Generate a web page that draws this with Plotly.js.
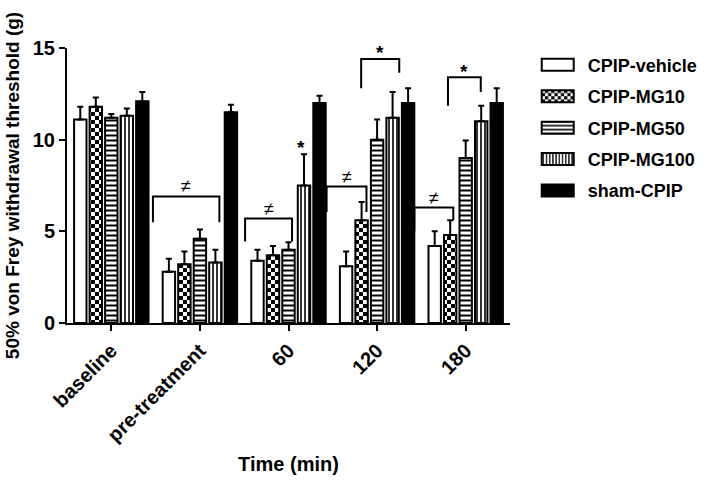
<!DOCTYPE html>
<html>
<head>
<meta charset="utf-8">
<script src="https://cdn.plot.ly/plotly-3.0.1.min.js"></script>
<style>html,body{margin:0;padding:0;background:#fff;}#chart{width:721px;height:480px;}</style>
</head>
<body>
<div id="chart"></div>
<script>
// ---- data ----
const categories = ['baseline', 'pre-treatment', '60', '120', '180'];
const seriesNames = ['CPIP-vehicle', 'CPIP-MG10', 'CPIP-MG50', 'CPIP-MG100', 'sham-CPIP'];
const vehicle    = [11.1, 2.8, 3.4, 3.1, 4.2];
const vehicleErr = [0.7, 0.7, 0.6, 0.8, 0.8];
const mg10       = [11.8, 3.2, 3.7, 5.6, 4.8];
const mg10Err    = [0.5, 0.7, 0.5, 1.0, 0.8];
const mg50       = [11.2, 4.6, 4.0, 10.0, 9.0];
const mg50Err    = [0.2, 0.5, 0.4, 1.1, 0.95];
const mg100      = [11.3, 3.3, 7.5, 11.2, 11.0];
const mg100Err   = [0.4, 0.7, 1.7, 1.4, 0.85];
const sham       = [12.1, 11.5, 12.0, 12.0, 12.0];
const shamErr    = [0.5, 0.4, 0.4, 0.8, 0.8];

// significance brackets: [x0, x1, yTop, yLeftEnd, yRightEnd, label, labelY] (data units)
const brackets = [
  [0.47, 1.22, 6.9, 5.5, 5.5, '≠', 7.5],
  [1.51, 2.04, 5.7, 4.45, 4.45, '≠', 6.2],
  [2.43, 2.88, 7.45, 6.05, 6.05, '≠', 7.95],
  [2.82, 3.25, 14.4, 12.8, 13.65, '*', 14.75],
  [3.42, 3.86, 6.3, 5.0, 5.6, '≠', 6.8],
  [3.80, 4.17, 13.4, 11.85, 12.6, '*', 13.7]
];
// single star above the 60-min MG100 bar: [x, y]
const stars = [[2.14, 9.55]];

const FONT = 'Arial, "Liberation Sans", Helvetica, sans-serif';
const values = [vehicle, mg10, mg50, mg100, sham];
const errs = [vehicleErr, mg10Err, mg50Err, mg100Err, shamErr];
const styles = [
  {color: '#ffffff'},
  {color: '#ffffff', pattern: {shape: '.', fgcolor: '#000', bgcolor: '#fff', size: 8, solidity: 0.5, fillmode: 'replace'}},
  {color: '#ffffff', pattern: {shape: '-', fgcolor: '#000', bgcolor: '#fff', size: 5, solidity: 0.4, fillmode: 'replace'}},
  {color: '#ffffff', pattern: {shape: '|', fgcolor: '#000', bgcolor: '#fff', size: 4, solidity: 0.4, fillmode: 'replace'}},
  {color: '#000000'}
];

const traces = seriesNames.map((name, i) => ({
  type: 'bar',
  name: name,
  x: categories,
  y: values[i],
  legendgroup: 'g' + i,
  marker: Object.assign({line: {color: '#000', width: 2}}, styles[i]),
  error_y: {type: 'data', symmetric: false, array: errs[i], arrayminus: errs[i].map(() => 0),
            color: '#000', thickness: 2, width: 3},
  hoverinfo: 'skip'
}));

const shapes = brackets.map(b => ({
  type: 'path', xref: 'x', yref: 'y',
  path: `M${b[0]},${b[3]} L${b[0]},${b[2]} L${b[1]},${b[2]} L${b[1]},${b[4]}`,
  line: {color: '#000', width: 2}
}));

const annotations = brackets.map(b => ({
  x: (b[0] + b[1]) / 2, y: b[6], xref: 'x', yref: 'y', text: b[5], showarrow: false,
  font: {family: FONT, size: b[5] === '*' ? 19 : 18, color: '#000', weight: b[5] === '*' ? 'bold' : 'normal'}
})).concat(stars.map(s => ({
  x: s[0], y: s[1], xref: 'x', yref: 'y', text: '*', showarrow: false,
  font: {family: FONT, size: 19, color: '#000', weight: 'bold'}
})));

const layout = {
  width: 721, height: 480,
  margin: {l: 67, r: 211, t: 48, b: 157},
  paper_bgcolor: '#fff', plot_bgcolor: '#fff',
  font: {family: FONT, color: '#000', size: 18, weight: 'bold'},
  barmode: 'group', bargap: 0.125, bargroupgap: 0.2,
  showlegend: true,
  legend: {x: 1.04, y: 1.005, xanchor: 'left', yanchor: 'top', traceorder: 'grouped',
           tracegroupgap: 5, itemwidth: 50,
           font: {family: FONT, size: 18, weight: 'bold', color: '#000'}},
  xaxis: {
    type: 'category', range: [-0.5, 4.5], automargin: false,
    showline: true, linecolor: '#000', linewidth: 2, mirror: false,
    ticks: 'outside', ticklen: 6, tickwidth: 2, tickcolor: '#000',
    tickangle: -45, showgrid: false, zeroline: false,
    tickfont: {family: FONT, size: 20, weight: 'bold', color: '#000'},
    title: {text: 'Time (min)', standoff: 12, font: {family: FONT, size: 20, weight: 'bold', color: '#000'}}
  },
  yaxis: {
    range: [0, 15], dtick: 5, automargin: false,
    showline: true, linecolor: '#000', linewidth: 2,
    ticks: 'outside', ticklen: 6, tickwidth: 2, tickcolor: '#000',
    showgrid: false, zeroline: false,
    tickfont: {family: FONT, size: 20, weight: 'bold', color: '#000'},
    title: {text: '50% von Frey withdrawal threshold (g)', standoff: 8,
            font: {family: FONT, size: 19, weight: 'bold', color: '#000'}}
  },
  shapes: shapes,
  annotations: annotations
};

function checker() {
  // turn the dot pattern into a checkerboard like the reference
  document.querySelectorAll('pattern').forEach(p => {
    if (!p.querySelector('circle')) return;
    const w = +p.getAttribute('width') || 8, h = +p.getAttribute('height') || 8;
    const ns = 'http://www.w3.org/2000/svg';
    while (p.firstChild) p.removeChild(p.firstChild);
    const mk = (x, y, ww, hh, c) => {
      const r = document.createElementNS(ns, 'rect');
      r.setAttribute('x', x); r.setAttribute('y', y);
      r.setAttribute('width', ww); r.setAttribute('height', hh);
      r.setAttribute('fill', c); p.appendChild(r);
    };
    mk(0, 0, w, h, '#fff');
    mk(0, 0, w / 2, h / 2, '#000');
    mk(w / 2, h / 2, w / 2, h / 2, '#000');
  });
  // wide legend swatches
  document.querySelectorAll('.legend .legendpoints path').forEach(pt => {
    pt.setAttribute('d', 'M16,6H-16V-6H16Z');
  });
}

Plotly.newPlot('chart', traces, layout, {staticPlot: true, displayModeBar: false}).then(checker);
</script>
</body>
</html>
